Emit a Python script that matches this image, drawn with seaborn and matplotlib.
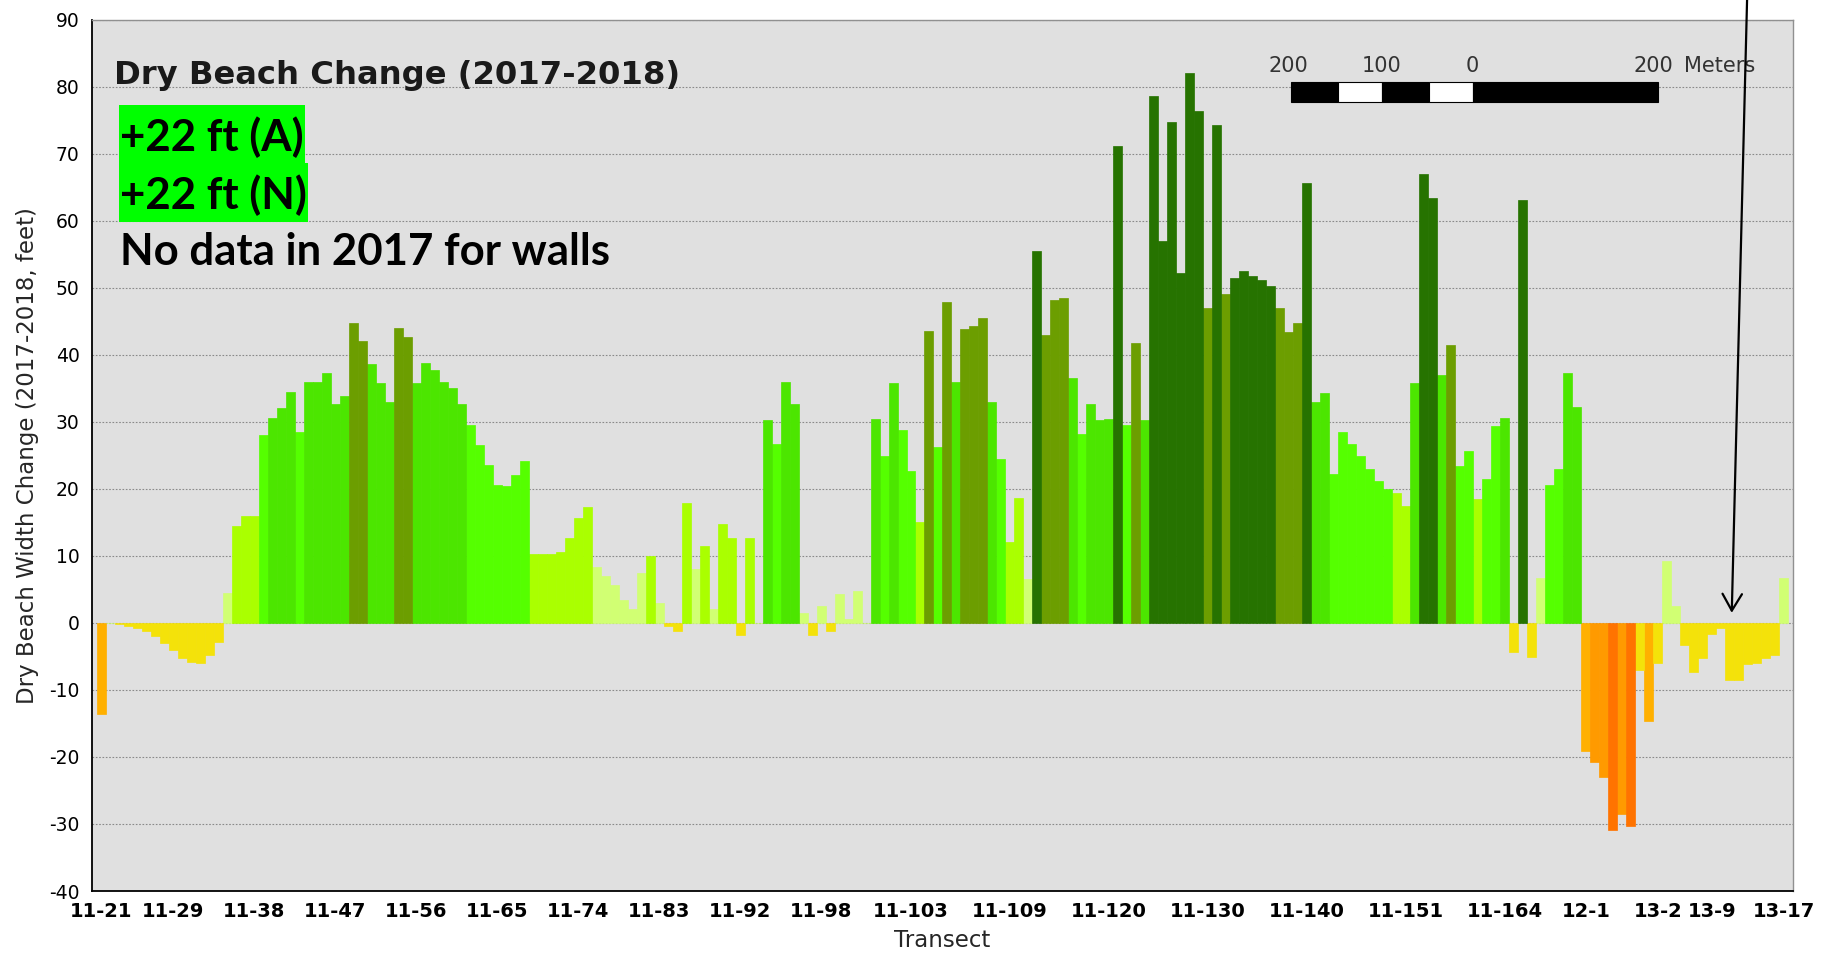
import numpy as np
import pandas as pd
import matplotlib
matplotlib.use('Agg')
import matplotlib.pyplot as plt
from matplotlib.patches import Rectangle
import seaborn as sns

# Dry beach width change per transect (feet), 2017 -> 2018
change_ft = [
    -13.6, 0.0, -0.2, -0.4, -0.8, -1.2, -2.0, -3.0, -4.0, -5.2,
    -5.8, -6.0, -4.8, -2.8, 4.5, 14.5, 16.0, 16.0, 28.0, 30.5,
    32.0, 34.5, 28.5, 36.0, 36.0, 37.3, 32.7, 33.8, 44.7, 42.0,
    38.6, 35.8, 33.0, 44.0, 42.7, 35.8, 38.8, 37.7, 36.0, 35.0,
    32.7, 29.5, 26.5, 23.5, 20.6, 20.4, 22.0, 24.2, 10.2, 10.2,
    10.3, 10.6, 12.7, 15.6, 17.3, 8.4, 7.0, 5.6, 3.4, 2.0,
    7.5, 10.0, 3.0, -0.5, -1.2, 17.9, 8.0, 11.5, 2.0, 14.7,
    12.7, -1.8, 12.6, 0.0, 30.2, 26.7, 36.0, 32.7, 1.5, -1.8,
    2.5, -1.2, 4.3, 0.6, 4.7, 0.0, 30.4, 24.9, 35.8, 28.8,
    22.6, 15.0, 43.5, 26.3, 47.9, 36.0, 43.8, 44.3, 45.4, 32.9,
    24.5, 12.0, 18.6, 6.5, 55.5, 42.9, 48.2, 48.4, 36.5, 28.2,
    32.7, 30.2, 30.4, 71.1, 29.5, 41.7, 30.2, 78.6, 57.0, 74.7,
    52.2, 82.0, 76.3, 47.0, 74.3, 49.1, 51.4, 52.5, 51.8, 51.1,
    50.2, 47.0, 43.4, 44.7, 65.6, 32.9, 34.3, 22.2, 28.5, 26.7,
    24.9, 22.9, 21.1, 20.0, 19.3, 17.5, 35.8, 67.0, 63.4, 37.0,
    41.5, 23.4, 25.6, 18.5, 21.5, 29.3, 30.6, -4.4, 63.1, -5.1,
    6.7, 20.6, 22.9, 37.3, 32.2, -19.1, -20.7, -23.0, -30.9, -28.5,
    -30.3, -7.0, -14.6, -6.0, 9.3, 2.5, -3.3, -7.4, -5.3, -1.6,
    -0.8, -8.5, -8.5, -6.2, -6.0, -5.3, -4.8, 6.7,
]

# labelled transects and the bar they sit under
tick_idx = [0, 8, 17, 26, 35, 44, 53, 62, 71, 80, 90, 101, 112, 123, 134,
            145, 156, 165, 173, 179, 187]
tick_labels = ['11-21', '11-29', '11-38', '11-47', '11-56', '11-65', '11-74',
               '11-83', '11-92', '11-98', '11-103', '11-109', '11-120',
               '11-130', '11-140', '11-151', '11-164', '12-1', '13-2',
               '13-9', '13-17']

# graduated colour classes (feet)
class_edges = [-np.inf, -30, -20, -10, 0, 10, 20, 30, 40, 50, np.inf]
class_names = ['< -30', '-30 to -20', '-20 to -10', '-10 to 0', '0 to 10',
               '10 to 20', '20 to 30', '30 to 40', '40 to 50', '> 50']
class_colors = ['#ff7300', '#ff9a00', '#ffb000', '#f4e20a', '#d1ff73',
                '#aaff00', '#55ff00', '#4ce600', '#6c9e00', '#267300']

df = pd.DataFrame({'pos': np.arange(len(change_ft)), 'change': change_ft})
df['cls'] = pd.cut(df['change'], bins=class_edges, labels=class_names,
                   right=False).astype(str)

sns.set_style('white')
plt.rcParams['font.family'] = ['DejaVu Sans']
plt.rcParams['axes.unicode_minus'] = False

fig = plt.figure(figsize=(18.32, 9.56), dpi=100)
ax = fig.add_axes([0.05022, 0.06799, 0.92849, 0.91161])
ax.set_facecolor('#e0e0e0')

sns.barplot(data=df, x='pos', y='change', hue='cls',
            palette=dict(zip(class_names, class_colors)), dodge=False,
            width=1.0, saturation=1, errorbar=None, legend=False, ax=ax)
for p in ax.patches:
    p.set_edgecolor(p.get_facecolor())
    p.set_linewidth(0.5)

ax.set_xlim(-1, 188)
ax.set_ylim(-40, 90)
ax.set_yticks(range(-40, 91, 10))
ax.set_xticks(tick_idx)
ax.set_xticklabels(tick_labels, fontweight='bold')
ax.yaxis.grid(True, linestyle=(0, (1.5, 1.5)), color='#8a8a8a', linewidth=0.8)
ax.xaxis.grid(False)
ax.set_axisbelow(True)

ax.tick_params(axis='x', labelsize=14, length=5, width=1.2, pad=3, colors='black')
ax.tick_params(axis='y', labelsize=13.5, length=5, width=1.2, pad=4, colors='black')
ax.set_ylabel('Dry Beach Width Change (2017-2018, feet)', fontsize=16.5, labelpad=7)
ax.set_xlabel('Transect', fontsize=16.5, labelpad=6)

for side in ['left', 'bottom']:
    ax.spines[side].set_color('black')
    ax.spines[side].set_linewidth(1.3)
for side in ['top', 'right']:
    ax.spines[side].set_color('#909090')
    ax.spines[side].set_linewidth(1.0)

# chart title inside the plot
ax.text(0.0131, 0.926, 'Dry Beach Change (2017-2018)', transform=ax.transAxes,
        fontsize=23.2, fontweight='bold', color='#1a1a1a', va='baseline')

# highlighted notes
ax.add_patch(Rectangle((0.01564, 0.8350), 0.1096, 0.0669, transform=ax.transAxes,
                       facecolor='#00ff00', edgecolor='none', zorder=5))
ax.add_patch(Rectangle((0.01564, 0.7680), 0.1113, 0.0670, transform=ax.transAxes,
                       facecolor='#00ff00', edgecolor='none', zorder=5))
note_kw = dict(transform=ax.transAxes, family=['Lato', 'DejaVu Sans'],
               fontsize=31.5, fontweight='bold', color='black', va='baseline', zorder=6)
ax.text(0.0162, 0.8493, '+22 ft (A)', **note_kw)
ax.text(0.0162, 0.7830, '+22 ft (N)', **note_kw)
ax.text(0.0162, 0.7181, 'No data in 2017 for walls', **note_kw)

# scale bar
seg_x = [0.70471, 0.73251, 0.75820, 0.78578, 0.81176, 0.92064]
for i in range(len(seg_x) - 1):
    ax.add_patch(Rectangle((seg_x[i], 0.9048), seg_x[i + 1] - seg_x[i], 0.0238,
                           transform=ax.transAxes, zorder=5, linewidth=0.8,
                           facecolor='black' if i % 2 == 0 else 'white',
                           edgecolor='black'))
sb_kw = dict(transform=ax.transAxes, fontsize=15, color='#333333', va='baseline')
ax.text(0.7035, 0.9401, '200', ha='center', **sb_kw)
ax.text(0.7582, 0.9401, '100', ha='center', **sb_kw)
ax.text(0.8115, 0.9401, '0', ha='center', **sb_kw)
ax.text(0.9178, 0.9401, '200', ha='center', **sb_kw)
ax.text(0.9362, 0.9401, 'Meters', ha='left', **sb_kw)

# pointer arrow from above the chart
ax.annotate('', xy=(0.964, 0.3192), xytext=(0.973, 1.0224),
            xycoords='axes fraction', textcoords='axes fraction',
            arrowprops=dict(arrowstyle='->,head_length=0.6,head_width=0.35',
                            lw=1.6, color='black', mutation_scale=20,
                            shrinkA=0, shrinkB=0),
            annotation_clip=False, zorder=7)

fig.savefig('out.png', dpi=100)
